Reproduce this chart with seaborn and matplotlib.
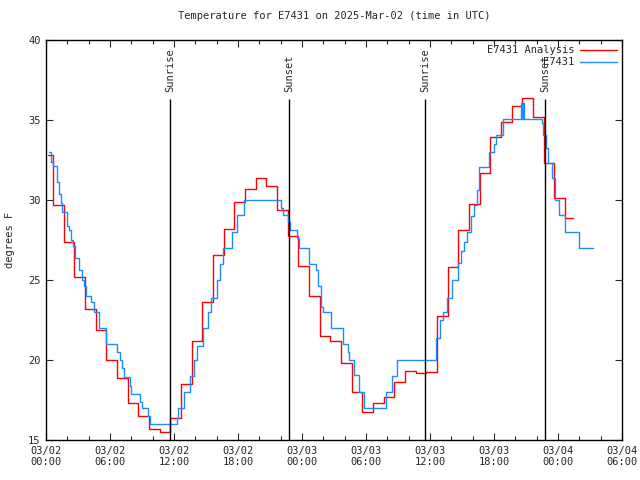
import matplotlib
matplotlib.use("Agg")
import matplotlib.pyplot as plt
import seaborn as sns
import numpy as np

# ---- data ----
# Analysis (red): hourly values, time in hours since 03/02 00:00 UTC
red_hours = [0.2, 0.65, 1.65, 2.65, 3.65, 4.65, 5.65, 6.65, 7.65, 8.65, 9.65,
             10.65, 11.65, 12.65, 13.65, 14.65, 15.65, 16.65, 17.65, 18.65, 19.65,
             20.65, 21.65, 22.65, 23.65, 24.65, 25.65, 26.65, 27.65, 28.65, 29.65,
             30.65, 31.65, 32.65, 33.65, 34.65, 35.65, 36.65, 37.65, 38.65, 39.65,
             40.65, 41.65, 42.65, 43.65, 44.65, 45.65, 46.65, 47.65, 48.65, 49.4]
red_temps = [32.8, 29.7, 27.4, 25.2, 23.2, 21.9, 20.0, 18.9, 17.3, 16.5, 15.7,
             15.5, 16.4, 18.5, 21.2, 23.6, 26.55, 28.2, 29.9, 30.7, 31.4,
             30.9, 29.4, 27.75, 25.9, 24.0, 21.5, 21.2, 19.8, 18.0, 16.75,
             17.3, 17.7, 18.6, 19.3, 19.2, 19.25, 22.75, 25.8, 28.1, 29.75,
             31.7, 33.95, 34.9, 35.9, 36.4, 35.2, 32.3, 30.1, 28.9, 28.9]

# Observations (blue)
blue_hours = [0.3, 0.5, 0.7, 1.05, 1.2, 1.38, 1.53, 2.0, 2.16, 2.31, 2.53, 2.69,
              3.1, 3.4, 3.56, 3.72, 4.25, 4.5, 4.97, 5.6, 6.65, 6.9, 7.1, 7.3,
              7.9, 8.0, 8.8, 9.0, 9.6, 9.75, 12.3, 12.4, 12.9, 13.5, 13.9, 14.2,
              14.7, 15.2, 15.5, 16.0, 16.3, 16.6, 17.4, 17.9, 18.6, 22.0, 22.2,
              22.7, 22.9, 23.5, 23.7, 24.7, 25.3, 25.5, 25.8, 26.0, 26.7, 27.8,
              28.3, 28.4, 28.9, 29.3, 29.8, 31.9, 32.4, 32.9, 36.55, 36.6, 36.9,
              37.2, 37.6, 38.1, 38.6, 38.9, 39.2, 39.5, 39.8, 40.1, 40.4, 40.6,
              41.5, 42.0, 42.2, 42.8, 44.5, 44.6, 44.75, 44.85, 46.5, 46.6, 46.9,
              47.1, 47.4, 47.7, 48.1, 48.7, 50.0, 51.3]
blue_temps = [33.0, 32.4, 32.1, 31.1, 30.4, 29.8, 29.25, 28.4, 28.1, 27.5, 27.1, 26.4,
              25.6, 25.0, 24.6, 24.0, 23.6, 23.0, 22.0, 21.0, 20.5, 20.0, 19.5, 18.95,
              18.4, 17.9, 17.4, 17.0, 16.5, 16.0, 16.4, 17.0, 18.0, 19.0, 20.0, 20.9,
              22.0, 23.0, 23.9, 25.0, 26.0, 27.0, 28.0, 29.06, 30.0, 29.5, 29.06,
              28.6, 28.1, 27.6, 27.0, 26.0, 25.6, 24.6, 23.3, 23.0, 22.0, 21.0,
              20.5, 20.0, 19.06, 18.0, 17.0, 18.0, 19.0, 20.0, 20.2, 21.4, 22.5,
              23.0, 23.9, 25.0, 26.06, 26.8, 27.4, 28.0, 29.0, 29.7, 30.6, 32.06,
              33.0, 33.5, 34.06, 35.06, 36.06, 35.06, 36.06, 35.06, 34.8, 34.06, 33.25,
              32.3, 31.4, 30.0, 29.06, 28.0, 27.0, 27.0]

sun_hours = [11.63, 22.78, 35.53, 46.78]
sun_labels = ["Sunrise", "Sunset", "Sunrise", "Sunset"]

tick_hours = [0, 6, 12, 18, 24, 30, 36, 42, 48, 54]
tick_labels = ["03/02\n00:00", "03/02\n06:00", "03/02\n12:00", "03/02\n18:00",
               "03/03\n00:00", "03/03\n06:00", "03/03\n12:00", "03/03\n18:00",
               "03/04\n00:00", "03/04\n06:00"]
y_ticks = [15, 20, 25, 30, 35, 40]

# ---- style ----
sns.set_style("ticks")
plt.rcParams['font.family'] = ['DejaVu Sans Mono']
plt.rcParams['font.size'] = 7.5

fig = plt.figure(figsize=(6.4, 4.8), dpi=100)
ax = fig.add_axes([46/640, 40/480, 576/640, 400/480])

sns.lineplot(x=red_hours, y=red_temps, drawstyle='steps-post', color='#ff0000',
             linewidth=1.0, label='E7431 Analysis', ax=ax, sort=False, estimator=None)
sns.lineplot(x=blue_hours, y=blue_temps, drawstyle='steps-post', color='#1e8cff',
             linewidth=1.0, label='E7431', ax=ax, sort=False, estimator=None)

for h, lab in zip(sun_hours, sun_labels):
    ax.vlines(h, 15, 36.3, color='black', linewidth=1.0)
    ax.text(h, 36.75, lab, rotation=90, ha='center', va='bottom', fontsize=7.5)

ax.set_xlim(0, 54)
ax.set_ylim(15, 40)
ax.set_xticks(tick_hours)
ax.set_xticklabels(tick_labels)
ax.set_xticks(np.arange(0, 55, 2), minor=True)
ax.set_yticks(y_ticks)
ax.tick_params(axis='both', which='both', direction='in', top=True, right=True,
               labelsize=7.5, width=0.8)
ax.tick_params(axis='both', which='major', length=5, pad=4)
ax.tick_params(axis='x', which='minor', length=3)
for s in ax.spines.values():
    s.set_linewidth(1.0)
    s.set_color('black')

ax.set_xlabel('')
ax.set_ylabel('degrees F', fontsize=7.5, labelpad=9)
ax.set_title('Temperature for E7431 on 2025-Mar-02 (time in UTC)', fontsize=7.5, pad=15)

leg = ax.legend(loc='upper right', frameon=False, markerfirst=False, fontsize=7.5,
                handlelength=3.5, borderaxespad=0.1, labelspacing=0.2,
                handletextpad=0.6)
for t in leg.get_texts():
    t.set_ha('right')

fig.savefig('out.png', dpi=100)
